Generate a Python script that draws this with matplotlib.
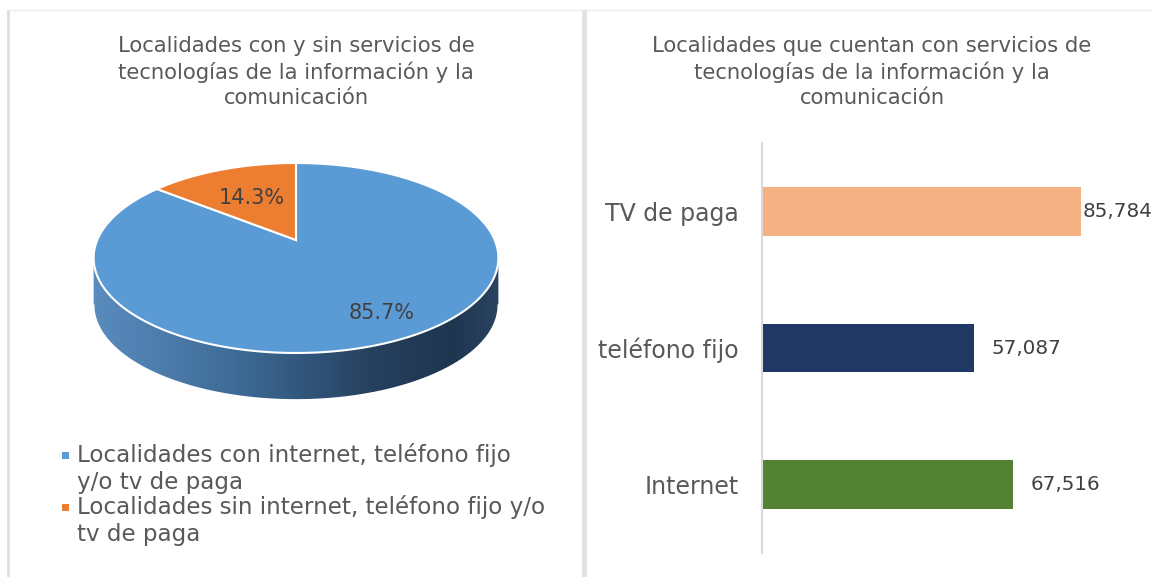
import numpy as np
import matplotlib
matplotlib.use("Agg")
import matplotlib.pyplot as plt
from matplotlib.patches import Polygon, Rectangle
from matplotlib.colors import LinearSegmentedColormap

# ---------------- data ----------------
pie_labels = ["Localidades con internet, teléfono fijo\ny/o tv de paga",
              "Localidades sin internet, teléfono fijo y/o\ntv de paga"]
pie_values = [85.7, 14.3]
pie_colors = ["#5b9bd5", "#ed7d31"]

bar_categories = ["Internet", "teléfono fijo", "TV de paga"]
bar_values = [67516, 57087, 85784]
bar_colors = ["#548235", "#203864", "#f4b183"]

title_left = "Localidades con y sin servicios de\ntecnologías de la información y la\ncomunicación"
title_right = "Localidades que cuentan con servicios de\ntecnologías de la información y la\ncomunicación"

W, H = 1151, 577
plt.rcParams['font.family'] = ['DejaVu Sans']
fig = plt.figure(figsize=(W / 100, H / 100), dpi=100)
fig.patch.set_facecolor("white")

# overlay axes in pixel coordinates
ax0 = fig.add_axes([0, 0, 1, 1])
ax0.set_xlim(0, W)
ax0.set_ylim(H, 0)
ax0.axis("off")

# panel borders
ax0.plot([8, 8], [10, H], color="#dedede", lw=2, solid_capstyle="butt")
ax0.plot([8, W], [10, 10], color="#ececec", lw=1)
ax0.plot([584, 584], [10, H], color="#e2e2e2", lw=3.5, solid_capstyle="butt")

TXT = "#595959"
LBL = "#404040"
ax0.text(296, 72, title_left, ha="center", va="center", fontsize=15.2,
         color=TXT, linespacing=1.3)
ax0.text(872, 72, title_right, ha="center", va="center", fontsize=15.2,
         color=TXT, linespacing=1.3)

# ---------------- 3D pie (perspective projection) ----------------
cx, cy0 = 296.0, 240.0
Acoef, Ccoef, arad = 46.1, -0.1895, 198.7
depth = 47.0


def proj(theta_deg, shift=0.0):
    t = np.radians(theta_deg)
    u = np.sin(t)
    v = -np.cos(t)
    den = 1 + Ccoef * v
    return cx + arad * u / den, (Acoef * v + cy0) / den + shift


total = float(sum(pie_values))
# side face
th = np.linspace(0, 360, 1441)
xt, yt = proj(th)
i_r = int(np.argmax(xt[: len(th) // 2]))
i_l = len(th) // 2 + int(np.argmin(xt[len(th) // 2:]))
tt = th[i_r:i_l + 1]
x_top, y_top = proj(tt)
x_bot, y_bot = proj(tt[::-1], depth)
side_pts = np.column_stack([np.r_[x_top, x_bot], np.r_[y_top, y_bot]])
side_poly = Polygon(side_pts, closed=True, facecolor="none", edgecolor="none")
ax0.add_patch(side_poly)
cmap = LinearSegmentedColormap.from_list(
    "side", [(0, "#5a8cbf"), (0.35, "#3e6b97"), (0.7, "#253f5d"),
             (0.88, "#1f3651"), (1.0, "#294360")])
grad = np.linspace(0, 1, 256).reshape(1, -1)
xmin, xmax = x_top.min() - 2, x_top.max() + 2
im = ax0.imshow(grad, cmap=cmap, aspect="auto",
                extent=[xmin, xmax, y_bot.max() + 2, y_top.min() - 2],
                zorder=2)
im.set_clip_path(side_poly)
ax0.plot(x_bot, y_bot, color="white", lw=1.2, zorder=3)
ax0.set_xlim(0, W)
ax0.set_ylim(H, 0)

# top face wedges
start = 0.0
label_pos = [(382, 313), (252, 198)]
for val, col in zip(pie_values, pie_colors):
    span = 360.0 * val / total
    a = np.linspace(start, start + span, 400)
    px, py = proj(a)
    ox, oy = cx, cy0
    pts = np.column_stack([np.r_[ox, px, ox], np.r_[oy, py, oy]])
    ax0.add_patch(Polygon(pts, closed=True, facecolor=col, edgecolor="white",
                          lw=1.5, zorder=4, joinstyle="miter"))
    start += span
for (lx, ly), val in zip(label_pos, pie_values):
    ax0.text(lx, ly, f"{val:.1f}%", ha="center", va="center", fontsize=15,
             color=LBL, zorder=6)

# legend
leg_y = [443, 495]
for (label, col), ty in zip(zip(pie_labels, pie_colors), leg_y):
    ax0.add_patch(Rectangle((62, ty + 8.5), 7, 7, facecolor=col, edgecolor="none"))
    ax0.text(77, ty, label, ha="left", va="top", fontsize=16.6, color=TXT,
             linespacing=1.2)

# ---------------- bar chart ----------------
bx0, bx1, by0, by1 = 762, W, 143, 553
axb = fig.add_axes([bx0 / W, 1 - by1 / H, (bx1 - bx0) / W, (by1 - by0) / H])
ypos = np.arange(len(bar_categories))
axb.barh(ypos, bar_values, height=0.355, color=bar_colors)
axb.set_xlim(0, max(bar_values) * (bx1 - bx0) / 319.0)
axb.set_ylim(-0.5, len(bar_categories) - 0.5)
axb.set_yticks(ypos)
axb.set_yticklabels(bar_categories, fontsize=17, color=TXT)
axb.tick_params(axis="y", length=0, pad=17)
axb.set_xticks([])
for s in ["top", "right", "bottom"]:
    axb.spines[s].set_visible(False)
axb.spines["left"].set_color("#d9d9d9")
axb.spines["left"].set_linewidth(1.5)
axb.patch.set_alpha(0)
vmax = max(bar_values)
for y, v in zip(ypos, bar_values):
    off = vmax * 0.004 if v == vmax else vmax * 0.055
    axb.text(v + off, y, f"{v:,}", ha="left", va="center", fontsize=14.3,
             color=LBL, clip_on=False)

fig.savefig("out.png", dpi=100, facecolor="white")
